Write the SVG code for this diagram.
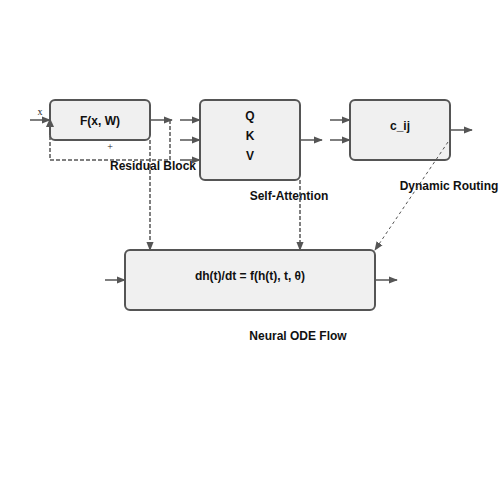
<svg xmlns="http://www.w3.org/2000/svg" width="500" height="500" viewBox="0 0 500 500">
<style>
.box{fill:#f0f0f0;stroke:#555;stroke-width:2}
.lbl{font-family:"Liberation Sans",Arial,sans-serif;font-size:12px;font-weight:bold;fill:#111;text-anchor:middle}
.sm{font-family:"Liberation Serif","Times New Roman",serif;font-size:10px;fill:#222;text-anchor:middle}
.ar{fill:none;stroke:#555;stroke-width:1.5;marker-end:url(#ah)}
.da{fill:none;stroke:#555;stroke-width:1.5;stroke-dasharray:4,2}
.dg{fill:none;stroke:#555;stroke-width:1;stroke-dasharray:3,3}
</style>
<defs>
<marker id="ah" viewBox="0 0 10 10" refX="9" refY="5" markerWidth="9" markerHeight="9" orient="auto" markerUnits="userSpaceOnUse"><path d="M0,1 L10,5 L0,9 z" fill="#555"/></marker>
</defs>
<rect width="500" height="500" fill="#fff"/>
<g id="residual">
<rect class="box" x="50" y="100" width="100" height="40" rx="5"/>
<text class="lbl" x="100" y="125">F(x, W)</text>
<text class="sm" x="40" y="115">x</text>
<text class="sm" x="110" y="150">+</text>
<text class="lbl" x="153" y="170">Residual Block</text>
</g>
<g id="attention">
<rect class="box" x="200" y="100" width="100" height="80" rx="5"/>
<text class="lbl" x="250" y="120">Q</text>
<text class="lbl" x="250" y="140">K</text>
<text class="lbl" x="250" y="160">V</text>
<text class="lbl" x="289" y="200">Self-Attention</text>
</g>
<g id="routing">
<rect class="box" x="350" y="100" width="100" height="60" rx="5"/>
<text class="lbl" x="400" y="130">c_ij</text>
<text class="lbl" x="449" y="190">Dynamic Routing</text>
</g>
<g id="ode">
<rect class="box" x="125" y="250" width="250" height="60" rx="5"/>
<text class="lbl" x="250" y="280">dh(t)/dt = f(h(t), t, θ)</text>
<text class="lbl" x="298" y="340">Neural ODE Flow</text>
</g>
<g id="connectors">
<path class="ar" d="M30,120 H50"/>
<path class="da" d="M170,120 V160 H50 V136"/>
<path d="M46,127 L50,118 L54,127 z" fill="#555"/>
<path class="ar" d="M150,120 H172"/>
<path class="ar" d="M180,120 H200"/>
<path class="ar" d="M180,140 H200"/>
<path class="ar" d="M180,160 H200"/>
<path class="ar" d="M300,140 H322"/>
<path class="ar" d="M330,120 H350"/>
<path class="ar" d="M330,140 H350"/>
<path class="ar" d="M450,130 H472"/>
<path class="ar" d="M105,280 H125"/>
<path class="ar" d="M375,280 H397"/>
<path class="da" d="M150,140 V250" marker-end="url(#ah)"/>
<path class="da" d="M300,180 V250" marker-end="url(#ah)"/>
<path class="dg" d="M448,142 L375,250" marker-end="url(#ah)"/>
</g>
</svg>
